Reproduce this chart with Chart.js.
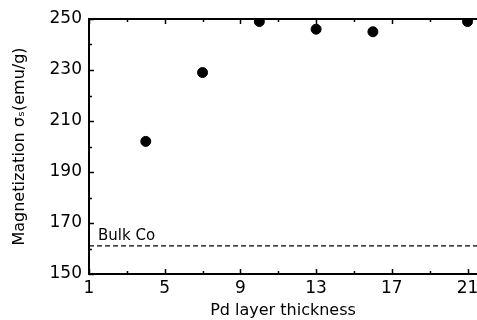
<!DOCTYPE html>
<html>
<head>
<meta charset="utf-8">
<script src="https://cdn.jsdelivr.net/npm/chart.js@4.4.0/dist/chart.umd.min.js"></script>
<style>
  html, body { margin: 0; padding: 0; background: #fff; overflow: hidden; }
  #wrap { width: 477px; height: 320px; }
</style>
</head>
<body>
<div id="wrap"><canvas id="chart"></canvas></div>
<script>
const thickness = [4, 7, 10, 13, 16, 21];
const magnetization = [202, 229, 249, 246, 245, 249];
const bulkCo = 161;
const bulkLabel = "Bulk Co";
const xTicks = [1, 5, 9, 13, 17, 21];
const xMinorTicks = [3, 7, 11, 15, 19];
const yTicks = [150, 170, 190, 210, 230, 250];
const yMinorTicks = [160, 180, 200, 220, 240];

const FONT = "'DejaVu Sans', sans-serif";

// frame (right side is cut off in the original), inward ticks, Bulk Co label
const framePlugin = {
  id: "frame",
  afterDatasetsDraw(chart) {
    const {ctx, chartArea: a, scales: {x, y}} = chart;
    ctx.save();
    ctx.strokeStyle = "#000";
    ctx.lineWidth = 2;
    ctx.beginPath();
    ctx.moveTo(a.right + 2, a.top);
    ctx.lineTo(a.left, a.top);
    ctx.lineTo(a.left, a.bottom);
    ctx.lineTo(a.right + 2, a.bottom);
    ctx.stroke();
    ctx.lineWidth = 1.5;
    const tick = (vals, len) => {
      vals.forEach(v => {
        const px = Math.round(x.getPixelForValue(v)) + 0.5;
        ctx.beginPath();
        ctx.moveTo(px, a.bottom); ctx.lineTo(px, a.bottom - len);
        ctx.moveTo(px, a.top); ctx.lineTo(px, a.top + len);
        ctx.stroke();
      });
    };
    const ytick = (vals, len) => {
      vals.forEach(v => {
        const py = Math.round(y.getPixelForValue(v)) + 0.5;
        ctx.beginPath();
        ctx.moveTo(a.left, py); ctx.lineTo(a.left + len, py);
        ctx.stroke();
      });
    };
    tick(xTicks, 5);
    tick(xMinorTicks, 3);
    ytick(yTicks, 5);
    ytick(yMinorTicks, 3);
    ctx.fillStyle = "#000";
    ctx.font = "15px " + FONT;
    ctx.textBaseline = "alphabetic";
    ctx.fillText(bulkLabel, a.left + 9, y.getPixelForValue(bulkCo) - 6);
    ctx.restore();
  }
};

new Chart(document.getElementById("chart"), {
  type: "scatter",
  data: {
    datasets: [{
      label: "Magnetization",
      data: thickness.map((t, i) => ({x: t, y: magnetization[i]})),
      backgroundColor: "#000",
      borderColor: "#000",
      pointRadius: 5,
      pointHoverRadius: 5,
    }, {
      label: bulkLabel,
      type: "line",
      data: [{x: 1, y: bulkCo}, {x: 21.5, y: bulkCo}],
      borderColor: "#000",
      borderWidth: 1.2,
      borderDash: [5, 3],
      pointRadius: 0,
      fill: false,
    }],
  },
  options: {
    responsive: true,
    maintainAspectRatio: false,
    animation: false,
    layout: { autoPadding: false, padding: { top: 19, right: 0, left: 0, bottom: 0 } },
    plugins: {
      legend: { display: false },
      tooltip: { enabled: false },
    },
    scales: {
      x: {
        type: "linear",
        min: 1,
        max: 21.5,
        afterBuildTicks: (scale) => { scale.ticks = xTicks.map(v => ({value: v})); },
        afterFit: (scale) => { scale.height = 46; scale.paddingRight = 0; scale.paddingLeft = 0; },
        grid: { display: false, drawTicks: false },
        border: { display: false },
        ticks: { color: "#000", font: { family: FONT, size: 17 }, padding: 4, maxRotation: 0 },
        title: {
          display: true,
          text: "Pd layer thickness",
          color: "#000",
          font: { family: FONT, size: 16 },
          padding: { top: 0, bottom: 0 },
        },
      },
      y: {
        min: 150,
        max: 250,
        afterBuildTicks: (scale) => { scale.ticks = yTicks.map(v => ({value: v})); },
        afterFit: (scale) => { scale.width = 89; scale.paddingTop = 0; scale.paddingBottom = 0; },
        grid: { display: false, drawTicks: false },
        border: { display: false },
        ticks: { color: "#000", font: { family: FONT, size: 17 }, padding: 7 },
        title: {
          display: true,
          text: "Magnetization σₛ(emu/g)",
          color: "#000",
          font: { family: FONT, size: 16 },
          padding: { top: 10, bottom: 0 },
        },
      },
    },
  },
  plugins: [framePlugin],
});
</script>
</body>
</html>
